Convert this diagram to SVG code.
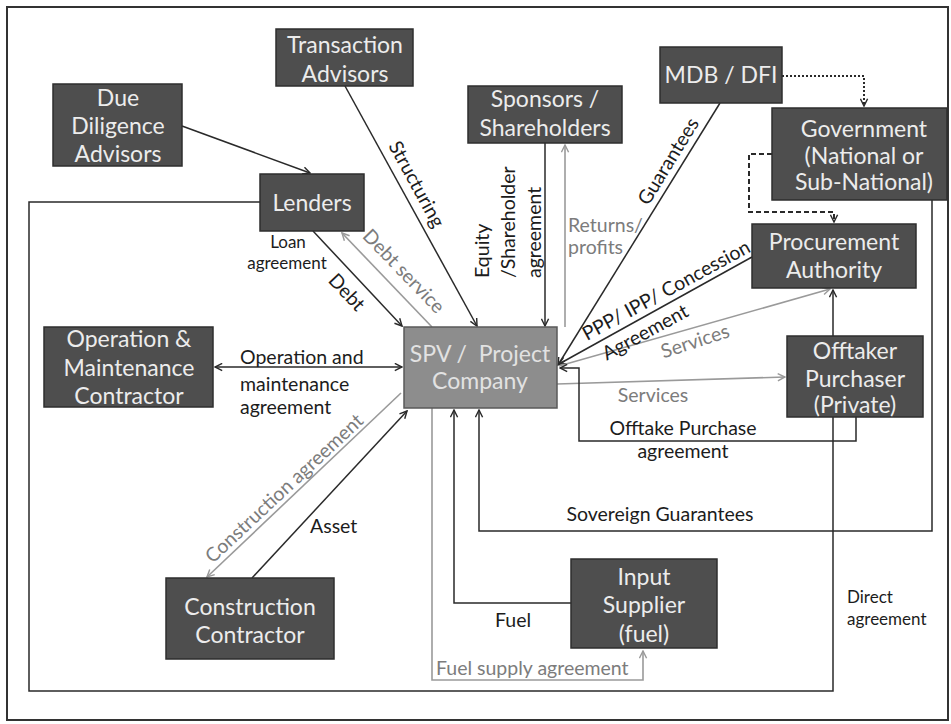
<svg xmlns="http://www.w3.org/2000/svg" width="951" height="724" viewBox="0 0 951 724">
  <style>
    .box { fill: #4e4e4e; stroke: #2e2e2e; stroke-width: 1.5; }
    .spv { fill: #8d8d8d; stroke: #5a5a5a; stroke-width: 1.5; }
    .bt { font-family: Lato, "Liberation Sans", sans-serif; font-size: 23px; fill: #ececec; text-anchor: middle; }
    .lbl { font-family: Lato, "Liberation Sans", sans-serif; font-size: 19.5px; fill: #1c1c1c; }
    .glbl { font-family: Lato, "Liberation Sans", sans-serif; font-size: 19.5px; fill: #7c7c7c; }
    .sm { font-size: 17px; }
    .mid { text-anchor: middle; }
    .dk { fill: none; stroke: #2a2a2a; stroke-width: 1.5; }
    .gr { fill: none; stroke: #9a9a9a; stroke-width: 1.6; }
  </style>
  <defs>
    <marker id="ad" viewBox="0 0 10 10" refX="9" refY="5" markerWidth="9" markerHeight="9" markerUnits="userSpaceOnUse" orient="auto-start-reverse">
      <path d="M1,1 L9,5 L1,9" fill="none" stroke="#2a2a2a" stroke-width="1.6"/>
    </marker>
    <marker id="ag" viewBox="0 0 10 10" refX="9" refY="5" markerWidth="9" markerHeight="9" markerUnits="userSpaceOnUse" orient="auto">
      <path d="M1,1 L9,5 L1,9" fill="none" stroke="#9a9a9a" stroke-width="1.6"/>
    </marker>
  </defs>

  <rect width="951" height="724" fill="#fff"/>
  <!-- page frame -->
  <rect x="7" y="7" width="941" height="713" fill="none" stroke="#333" stroke-width="2"/>

  <g id="connectors">
    <!-- direct agreement loop: lenders round to procurement authority -->
    <path class="dk" d="M260,202 H29 V691 H833 V290" marker-end="url(#ad)"/>
    <!-- due diligence to lenders -->
    <path class="dk" d="M182,126 L310,173" marker-end="url(#ad)"/>
    <!-- structuring -->
    <path class="dk" d="M345,86 L477,326" marker-end="url(#ad)"/>
    <!-- debt -->
    <path class="dk" d="M313,231 L402,326" marker-end="url(#ad)"/>
    <!-- debt service -->
    <path class="gr" d="M432,327 L342,233" marker-end="url(#ag)"/>
    <!-- equity -->
    <path class="dk" d="M545,143 V326" marker-end="url(#ad)"/>
    <!-- returns / profits -->
    <path class="gr" d="M565,327 V145" marker-end="url(#ag)"/>
    <!-- guarantees -->
    <path class="dk" d="M720,103 L558,365" marker-end="url(#ad)"/>
    <!-- concession agreement -->
    <path class="dk" d="M752,257 L559,364" marker-end="url(#ad)"/>
    <!-- services to procurement authority -->
    <path class="gr" d="M559,366 L830,289" marker-end="url(#ag)"/>
    <!-- services to offtaker -->
    <path class="gr" d="M557,384 L785,377" marker-end="url(#ag)"/>
    <!-- offtake purchase agreement -->
    <path class="dk" d="M856,417 V441 H579 V368 H560" marker-end="url(#ad)"/>
    <!-- MDB to government -->
    <path d="M782,76 H864 V106" fill="none" stroke="#2a2a2a" stroke-width="2" stroke-dasharray="2,2" marker-end="url(#ad)"/>
    <!-- government to procurement authority -->
    <path d="M772,154 H749 V212 H834 V222" fill="none" stroke="#2a2a2a" stroke-width="2" stroke-dasharray="5,3" marker-end="url(#ad)"/>
    <!-- sovereign guarantees -->
    <path class="dk" d="M932,200 V531 H479 V410" marker-end="url(#ad)"/>
    <!-- O&M agreement -->
    <path class="dk" d="M215,367 H402" marker-start="url(#ad)" marker-end="url(#ad)"/>
    <!-- construction agreement -->
    <path class="gr" d="M401,393 L207,577" marker-end="url(#ag)"/>
    <!-- asset -->
    <path class="dk" d="M252,578 L407,411" marker-end="url(#ad)"/>
    <!-- fuel -->
    <path class="dk" d="M571,603 H454 V410" marker-end="url(#ad)"/>
    <!-- fuel supply agreement -->
    <path class="gr" d="M432,408 V680 H643 V651" marker-end="url(#ag)"/>
  </g>

  <g id="labels">
    <text class="lbl sm mid" x="288" y="248">Loan</text>
    <text class="lbl sm mid" x="287" y="269">agreement</text>
    <text class="lbl" transform="translate(417,184) rotate(61.3)" text-anchor="middle" y="7">Structuring</text>
    <text class="lbl" transform="translate(347,292) rotate(46.6)" text-anchor="middle" y="7">Debt</text>
    <text class="glbl" transform="translate(404,271) rotate(46)" text-anchor="middle" y="7">Debt service</text>
    <text class="lbl" transform="translate(489,278) rotate(-90)">Equity</text>
    <text class="lbl" transform="translate(515,278) rotate(-90)">/Shareholder</text>
    <text class="lbl" transform="translate(541,278) rotate(-90)">agreement</text>
    <text class="glbl" x="568" y="232">Returns/</text>
    <text class="glbl" x="568" y="254">profits</text>
    <text class="lbl" transform="translate(668,161) rotate(-58.4)" text-anchor="middle" y="7">Guarantees</text>
    <text class="lbl" transform="translate(666,290) rotate(-28.6)" text-anchor="middle" y="7">PPP/ IPP/ Concession</text>
    <text class="lbl" transform="translate(645,332) rotate(-28.6)" text-anchor="middle" y="7">Agreement</text>
    <text class="glbl" transform="translate(695,341) rotate(-18)" text-anchor="middle" y="7">Services</text>
    <text class="glbl" x="653" y="402" text-anchor="middle">Services</text>
    <text class="lbl mid" x="683" y="435">Offtake Purchase</text>
    <text class="lbl mid" x="683" y="458">agreement</text>
    <text class="lbl" x="240" y="364">Operation and</text>
    <text class="lbl" x="240" y="391">maintenance</text>
    <text class="lbl" x="240" y="414">agreement</text>
    <text class="glbl" transform="translate(284,488) rotate(-43)" text-anchor="middle" y="7">Construction agreement</text>
    <text class="lbl" x="310" y="533">Asset</text>
    <text class="lbl mid" x="660" y="521">Sovereign Guarantees</text>
    <text class="lbl" x="495" y="627">Fuel</text>
    <text class="glbl" x="436" y="675">Fuel supply agreement</text>
    <text class="lbl sm" x="847" y="603">Direct</text>
    <text class="lbl sm" x="847" y="625">agreement</text>
  </g>

  <g id="due-diligence">
    <rect class="box" x="53" y="84" width="129" height="82"/>
    <text class="bt" x="118" y="106">Due</text>
    <text class="bt" x="118" y="134">Diligence</text>
    <text class="bt" x="118" y="162">Advisors</text>
  </g>
  <g id="transaction-advisors">
    <rect class="box" x="276" y="29" width="137" height="57"/>
    <text class="bt" x="345" y="53">Transaction</text>
    <text class="bt" x="345" y="82">Advisors</text>
  </g>
  <g id="lenders">
    <rect class="box" x="260" y="174" width="104" height="57"/>
    <text class="bt" x="312" y="211">Lenders</text>
  </g>
  <g id="sponsors">
    <rect class="box" x="468" y="86" width="154" height="57"/>
    <text class="bt" x="545" y="107">Sponsors /</text>
    <text class="bt" x="545" y="136">Shareholders</text>
  </g>
  <g id="mdb-dfi">
    <rect class="box" x="660" y="47" width="122" height="56"/>
    <text class="bt" x="721" y="83">MDB / DFI</text>
  </g>
  <g id="government">
    <rect class="box" x="772" y="108" width="175" height="92"/>
    <text class="bt" x="864" y="137">Government</text>
    <text class="bt" x="864" y="164">(National or</text>
    <text class="bt" x="864" y="190">Sub-National)</text>
  </g>
  <g id="procurement">
    <rect class="box" x="752" y="224" width="164" height="64"/>
    <text class="bt" x="834" y="250">Procurement</text>
    <text class="bt" x="834" y="278">Authority</text>
  </g>
  <g id="offtaker">
    <rect class="box" x="787" y="336" width="136" height="81"/>
    <text class="bt" x="855" y="359">Offtaker</text>
    <text class="bt" x="855" y="387">Purchaser</text>
    <text class="bt" x="855" y="413">(Private)</text>
  </g>
  <g id="om-contractor">
    <rect class="box" x="44" y="327" width="169" height="80"/>
    <text class="bt" x="129" y="347">Operation &amp;</text>
    <text class="bt" x="129" y="376">Maintenance</text>
    <text class="bt" x="129" y="404">Contractor</text>
  </g>
  <g id="spv">
    <rect class="spv" x="404" y="327" width="153" height="81"/>
    <text class="bt" x="480" y="362" style="fill:#e2e2e2" xml:space="preserve">SPV /  Project</text>
    <text class="bt" x="480" y="389" style="fill:#e2e2e2">Company</text>
  </g>
  <g id="construction-contractor">
    <rect class="box" x="166" y="578" width="168" height="81"/>
    <text class="bt" x="250" y="615">Construction</text>
    <text class="bt" x="250" y="643">Contractor</text>
  </g>
  <g id="input-supplier">
    <rect class="box" x="571" y="559" width="146" height="89"/>
    <text class="bt" x="644" y="585">Input</text>
    <text class="bt" x="644" y="613">Supplier</text>
    <text class="bt" x="644" y="642">(fuel)</text>
  </g>
</svg>
